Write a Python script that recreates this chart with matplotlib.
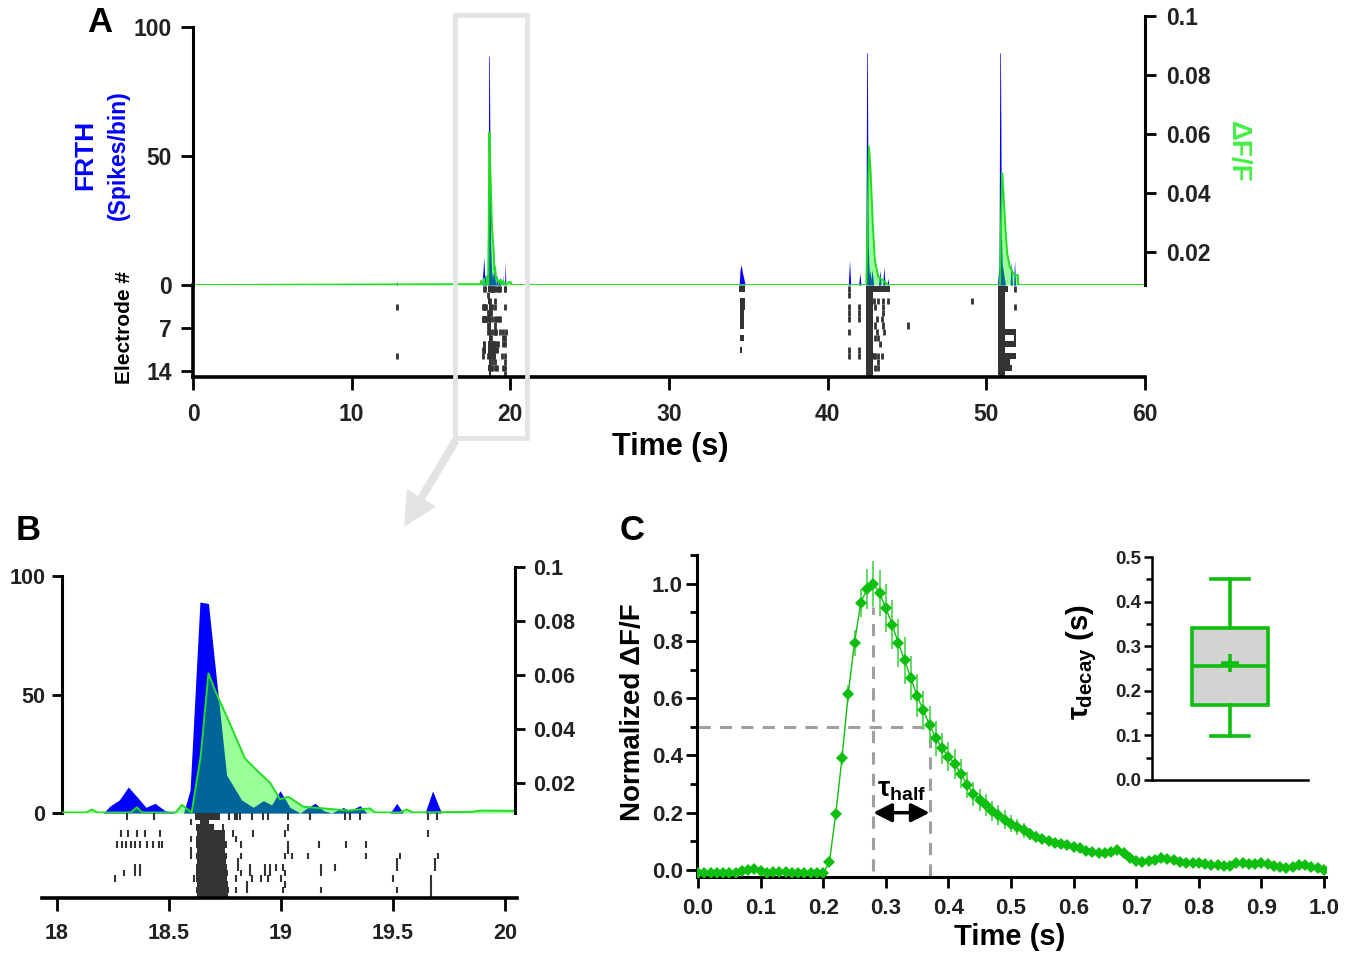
import numpy as np
import matplotlib
matplotlib.use("Agg")
import matplotlib.pyplot as plt
from matplotlib.patches import Rectangle, Polygon

plt.rcParams["font.family"] = ["Liberation Sans", "DejaVu Sans"]
plt.rcParams["font.weight"] = "bold"
plt.rcParams["mathtext.fontset"] = "custom"
plt.rcParams["mathtext.rm"] = "Liberation Sans:bold"
plt.rcParams["mathtext.it"] = "Liberation Sans:bold"
plt.rcParams["mathtext.bf"] = "Liberation Sans:bold"

BLUE = "#0000FF"
LIME = "#00FF00"
LIME_LINE = "#22DD22"
GREEN = "#0FBF0F"
ERR_GREEN = "#55D855"
RASTER = "#333333"
TICK = "#222222"

# ---------------- data ----------------
# panel B: FRTH (spikes/bin) 18-20 s
B_FRTH_T = [18.02, 18.207, 18.237, 18.278, 18.318, 18.359, 18.397, 18.437, 18.482, 18.527,
            18.565, 18.594, 18.638, 18.676, 18.757, 18.824, 18.876, 18.921, 18.958, 18.996,
            19.04, 19.085, 19.115, 19.152, 19.19, 19.226, 19.278, 19.308, 19.353, 19.383,
            19.487, 19.517, 19.546, 19.643, 19.677, 19.717, 20.04]
B_FRTH_V = [0, 0, 3, 5.5, 11, 6.6, 2.4, 4.1, 1, 0,
            0, 9.7, 89, 88.4, 16, 5.5, 2.4, 5.2, 3.4, 9.4,
            2.4, 0, 2, 4.1, 1, 0, 2.3, 1, 3.1, 0,
            0, 4.1, 0, 0, 9.3, 0, 0]
# panel B: dF/F 18-20 s
B_DFF_T = [18.02, 18.13, 18.155, 18.18, 18.33, 18.356, 18.38, 18.53, 18.557, 18.601,
           18.641, 18.676, 18.711, 18.765, 18.839, 18.891, 18.951, 18.996, 19.033, 19.1,
           19.19, 19.3, 19.397, 19.42, 19.53, 19.561, 19.59, 19.85, 19.89, 20.04]
B_DFF_V = [0.0091, 0.0091, 0.0102, 0.0091, 0.0091, 0.011, 0.0091, 0.0091, 0.0119, 0.0091,
           0.0297, 0.0606, 0.0532, 0.0433, 0.0291, 0.0248, 0.0201, 0.014, 0.0149, 0.0112,
           0.0106, 0.0098, 0.0106, 0.0091, 0.0091, 0.0102, 0.0091, 0.0093, 0.0098, 0.0097]

# panel A: other events (FRTH)
EV13_T = [12.8, 12.85, 12.9]
EV13_V = [0, 1.5, 0]
EV34_T = [34.42, 34.48, 34.55, 34.62, 34.7, 34.8]
EV34_V = [0, 6, 8, 5, 3, 0]
EV42_T = [41.3, 41.38, 41.45, 41.95, 42.03, 42.1, 42.4, 42.46, 42.5, 42.56, 42.62, 42.66,
          42.72, 42.8, 42.9, 43.2, 43.29, 43.36, 43.47, 43.54, 43.62, 43.75, 43.8, 43.86]
EV42_V = [0, 9.7, 0, 0, 4.6, 0, 0, 90, 90, 15, 4, 5.8, 2, 6, 0, 0, 5.8, 0, 0, 7, 0, 0, 2.7, 0]
EV51_T = [50.7, 50.8, 50.85, 50.89, 50.95, 51.0, 51.1, 51.2, 51.5, 51.57, 51.64, 51.72, 51.78, 51.84]
EV51_V = [0, 8, 90, 90, 20, 8, 4, 0, 0, 9, 0, 0, 9.7, 0]
# panel A: other events (dF/F)
EV42_DT = [42.44, 42.52, 42.6, 42.7, 42.83, 42.97, 43.19, 43.7, 43.8]
EV42_DV = [0.0088, 0.03, 0.0557, 0.048, 0.0308, 0.0173, 0.0116, 0.0095, 0.0088]
EV51_DT = [50.86, 50.93, 51.0, 51.06, 51.17, 51.31, 51.48, 51.75, 51.98, 52.02]
EV51_DV = [0.0088, 0.03, 0.0467, 0.042, 0.0308, 0.0196, 0.015, 0.0122, 0.0122, 0.0088]
DFF_BASE = 0.0088

# raster 18-20 s (one list per electrode 0..14)
B_SPIKES = [
    [18.311, 18.434, 18.769, 18.795, 18.805, 18.817, 18.869, 18.921, 18.943, 19.033, 19.13,
     19.286, 19.308, 19.353, 19.658, 19.695],
    [18.60],
    [18.74, 19.03],
    [18.284, 18.318, 18.356, 18.393, 18.46, 18.787, 18.876, 19.018, 19.658],
    [18.60, 18.80],
    [18.27, 18.29, 18.31, 18.33, 18.35, 18.37, 18.40, 18.43, 18.455, 18.47, 18.82, 19.03,
     19.17, 19.29, 19.38],
    [18.60, 19.03],
    [18.60, 18.82, 19.02, 19.05, 19.12, 19.38, 19.53, 19.70],
    [18.81, 19.52, 19.69],
    [18.35, 18.37, 18.81, 18.86, 18.93, 18.95, 18.98, 19.01, 19.18, 19.24, 19.52, 19.69],
    [18.30, 18.35, 18.37, 18.82, 18.86, 18.93, 18.95, 19.02, 19.18],
    [18.26, 18.61, 18.80, 18.87, 18.91, 18.94, 19.00, 19.50, 19.67],
    [18.85, 19.02, 19.67],
    [18.80, 18.85, 19.01, 19.18, 19.52, 19.67],
    [19.67],
]
B_SPANS = [
    [(18.615, 18.73)], [(18.64, 18.68)], [(18.62, 18.70)], [(18.625, 18.75)], [(18.62, 18.75)],
    [(18.62, 18.76)], [(18.625, 18.75)], [(18.62, 18.76)], [(18.625, 18.755)], [(18.62, 18.76)],
    [(18.62, 18.765)], [(18.62, 18.76)], [(18.625, 18.765)], [(18.62, 18.77)], [(18.625, 18.765)],
]
# raster, rest of the 60 s recording
A_SPIKES = [
    [41.35, 51.78],
    [41.35],
    [42.95, 43.2, 43.5, 43.8, 49.1],
    [12.85, 41.35, 42.0, 43.0, 43.5, 51.78],
    [41.35, 42.0, 43.5],
    [41.35, 42.0, 43.1, 43.4],
    [43.0, 43.5, 45.05],
    [41.35, 43.1, 43.55],
    [43.0, 43.2],
    [43.3],
    [41.35, 42.0],
    [12.85, 41.35, 42.0, 42.9, 43.0, 43.2, 43.4],
    [43.2],
    [43.0, 43.2],
    [],
]
A_SPANS = [
    [(34.42, 34.80), (42.4, 43.9), (50.73, 51.36)],
    [(42.4, 42.85), (50.73, 51.15)],
    [(34.45, 34.8), (42.4, 42.85), (50.73, 51.15)],
    [(34.45, 34.8), (42.4, 42.85), (50.73, 51.2)],
    [(34.45, 34.75), (42.4, 42.85), (50.73, 51.15)],
    [(34.45, 34.75), (42.4, 42.85), (50.73, 51.15)],
    [(34.45, 34.7), (42.4, 42.85), (50.73, 51.15)],
    [(42.4, 42.85), (50.73, 51.9)],
    [(34.45, 34.75), (42.4, 42.85), (50.73, 51.15), (51.72, 51.9)],
    [(42.4, 42.85), (50.73, 51.9)],
    [(34.45, 34.6), (42.4, 42.85), (50.73, 51.15)],
    [(42.4, 42.9), (50.73, 51.9)],
    [(42.4, 42.85), (50.73, 51.5)],
    [(42.4, 42.85), (50.73, 51.6)],
    [(42.4, 42.85), (50.73, 51.15)],
]

# panel C: mean normalized dF/F (0.01 s steps) and SEM
C_T = [round(0.01 * i, 2) for i in range(101)]
C_MEAN = [-0.012, -0.012, -0.012, -0.012, -0.012, -0.011, -0.010, -0.005, 0.000, 0.005,
          -0.002, -0.010, -0.008, -0.007, -0.008, -0.010, -0.009, -0.011, -0.012, -0.012,
          -0.010, 0.028, 0.196, 0.390, 0.615, 0.793, 0.933, 0.981, 1.000, 0.967,
          0.915, 0.857, 0.793, 0.732, 0.670, 0.608, 0.557, 0.507, 0.460, 0.425,
          0.396, 0.371, 0.336, 0.297, 0.266, 0.245, 0.227, 0.207, 0.192, 0.175,
          0.162, 0.150, 0.138, 0.126, 0.116, 0.108, 0.101, 0.095, 0.090, 0.086,
          0.081, 0.076, 0.068, 0.063, 0.061, 0.061, 0.063, 0.069, 0.058, 0.043,
          0.033, 0.029, 0.031, 0.035, 0.042, 0.040, 0.034, 0.028, 0.025, 0.024,
          0.023, 0.022, 0.019, 0.016, 0.013, 0.014, 0.025, 0.026, 0.022, 0.021,
          0.023, 0.022, 0.013, 0.009, 0.006, 0.010, 0.016, 0.017, 0.012, 0.008,
          0.000]
C_SEM = [0.004] * 21 + [0.008, 0.017, 0.025, 0.030, 0.045, 0.050, 0.070, 0.080, 0.080,
                        0.083, 0.085, 0.085, 0.083, 0.078, 0.075, 0.068, 0.066, 0.062, 0.055,
                        0.052, 0.053, 0.050, 0.045, 0.043, 0.039, 0.037, 0.035, 0.036, 0.033,
                        0.030, 0.027, 0.025, 0.022, 0.020, 0.018, 0.015, 0.013, 0.011, 0.010,
                        0.009, 0.008] + [0.006] * 20 + [0.005] * 19
T_PEAK = 0.28
T_HALF = 0.37
# inset: tau_decay box plot summary (s)
TAU_Q1, TAU_MED, TAU_Q3 = 0.168, 0.256, 0.340
TAU_LO, TAU_HI, TAU_MEAN = 0.098, 0.450, 0.263

# ---------------- layout helpers (pixels, top-left origin) ----------------
W, H = 1355, 956
fig = plt.figure(figsize=(W / 100, H / 100), dpi=100)


def axes_px(x0, y0, x1, y1):
    ax = fig.add_axes([x0 / W, 1 - y1 / H, (x1 - x0) / W, (y1 - y0) / H])
    ax.set_facecolor("none")
    return ax


def text_px(x, y, s, **kw):
    fig.text(x / W, 1 - y / H, s, ha=kw.pop("ha", "center"), va=kw.pop("va", "center"), **kw)


def only_spines(ax, keep, lw=2.2):
    for side, sp in ax.spines.items():
        sp.set_visible(side in keep)
        sp.set_linewidth(lw)


def raster(ax, spikes, spans, lw, height):
    for row, times in enumerate(spikes):
        if times:
            ax.vlines(times, row + 0.6 - height / 2, row + 0.6 + height / 2, color=RASTER, lw=lw)
    for row, segs in enumerate(spans):
        ax.broken_barh([(s, e - s) for s, e in segs], (row + 0.6 - height / 2, height),
                       facecolor=RASTER, lw=0)


def frth(ax, ax2, t, v, dt, dv, base):
    ax.fill_between(t, v, 0, color=BLUE, lw=0)
    ax2.fill_between(dt, dv, base, color=LIME, alpha=0.4, lw=0)
    ax2.plot(dt, dv, color=LIME_LINE, lw=1.4)


# ---------------- panel A ----------------
a_t = np.concatenate([[0.0], EV13_T, B_FRTH_T, EV34_T, EV42_T, EV51_T, [60.0]])
a_v = np.concatenate([[0.0], EV13_V, B_FRTH_V, EV34_V, EV42_V, EV51_V, [0.0]])
a_dt = np.concatenate([[0.0], B_DFF_T, [20.1], EV42_DT, EV51_DT, [60.0]])
a_dv = np.concatenate([[DFF_BASE], B_DFF_V, [DFF_BASE], EV42_DV, EV51_DV, [DFF_BASE]])

axA = axes_px(193, 14, 1145, 285)
axA2 = axA.twinx()
axA2.set_facecolor("none")
axA.set_xlim(0, 60)
axA.set_ylim(0, 105)
axA2.set_ylim(0.00881, 0.10068)
frth(axA, axA2, a_t, a_v, a_dt, a_dv, 0.00881)
only_spines(axA, ["left"])
only_spines(axA2, ["right"])
axA.spines["left"].set_bounds(0, 100)
axA2.spines["right"].set_bounds(0.00881, 0.1)
axA.set_xticks([])
axA.set_yticks([0, 50, 100])
axA.tick_params(axis="y", direction="out", length=9, width=2, pad=6, labelsize=16.5,
                labelcolor=TICK)
axA2.set_yticks([0.02, 0.04, 0.06, 0.08, 0.1])
axA2.set_yticklabels(["0.02", "0.04", "0.06", "0.08", "0.1"])
axA2.tick_params(axis="y", direction="out", length=8, width=2, pad=7, labelsize=16.5,
                 labelcolor=TICK)

axAr = axes_px(193, 285, 1145, 377)
axAr.set_xlim(0, 60)
axAr.set_ylim(15, 0)
raster(axAr, [b + a for b, a in zip(B_SPIKES, A_SPIKES)],
       [b + a for b, a in zip(B_SPANS, A_SPANS)], lw=2.0, height=1.0)
only_spines(axAr, ["left", "bottom"], lw=2.6)
axAr.set_yticks([7, 14])
axAr.set_xticks(range(0, 61, 10))
axAr.tick_params(axis="y", direction="out", length=9, width=2, pad=6, labelsize=16.5,
                 labelcolor=TICK)
axAr.tick_params(axis="x", direction="out", length=9, width=2, pad=10, labelsize=16.5,
                 labelcolor=TICK)

text_px(100, 22, "A", fontsize=25)
text_px(85, 155, "FRTH", fontsize=19, color=BLUE, rotation=90)
text_px(118, 155, "(Spikes/bin)", fontsize=16.5, color=BLUE, rotation=90)
text_px(125, 327, "Electrode #", fontsize=15, rotation=90)
text_px(1238, 152, "ΔF/F", fontsize=20, color="#44EE44", rotation=-90)
text_px(670, 447, "Time (s)", fontsize=22)

# zoom box + arrow
fig.add_artist(Rectangle((455 / W, 1 - 438 / H), 72 / W, 423 / H, transform=fig.transFigure,
                         fill=False, edgecolor="#E3E3E3", lw=3.4, zorder=10))
tip = np.array([404.0, 527.0])
start = np.array([456.0, 440.0])
u = (tip - start) / np.hypot(*(tip - start))
n = np.array([-u[1], u[0]])
hb = tip - u * 34
verts = [start + n * 4, hb + n * 4, hb + n * 17, tip, hb - n * 17, hb - n * 4, start - n * 4]
fig.add_artist(Polygon([(x / W, 1 - y / H) for x, y in verts], closed=True,
                       transform=fig.transFigure, facecolor="#E3E3E3", edgecolor="none",
                       zorder=10))

# ---------------- panel B ----------------
axB = axes_px(62, 567, 515, 813)
axB2 = axB.twinx()
axB2.set_facecolor("none")
axB.set_xlim(18.022, 20.045)
axB.set_ylim(0, 103.8)
axB2.set_ylim(0.0089, 0.1)
frth(axB, axB2, B_FRTH_T, B_FRTH_V, B_DFF_T, B_DFF_V, 0.0089)
only_spines(axB, ["left"])
only_spines(axB2, ["right"])
axB.spines["left"].set_bounds(0, 100)
axB.set_xticks([])
axB.set_yticks([0, 50, 100])
axB.tick_params(axis="y", direction="out", length=7, width=2, pad=5, labelsize=15.5,
                labelcolor=TICK)
axB2.set_yticks([0.02, 0.04, 0.06, 0.08, 0.1])
axB2.set_yticklabels(["0.02", "0.04", "0.06", "0.08", "0.1"])
axB2.tick_params(axis="y", direction="out", length=7, width=2, pad=6, labelsize=15.5,
                 labelcolor=TICK)

axBr = axes_px(42, 813, 517, 898)
axBr.set_xlim(17.933, 20.054)
axBr.set_ylim(15, 0)
raster(axBr, B_SPIKES, B_SPANS, lw=1.5, height=1.2)
only_spines(axBr, ["bottom"], lw=2.6)
axBr.set_yticks([])
axBr.set_xticks([18, 18.5, 19, 19.5, 20])
axBr.set_xticklabels(["18", "18.5", "19", "19.5", "20"])
axBr.tick_params(axis="x", direction="out", length=9, width=2, pad=9, labelsize=15.5,
                 labelcolor=TICK)
text_px(28, 530, "B", fontsize=25)

# ---------------- panel C ----------------
axC = axes_px(697, 555, 1326, 877)
axC.set_xlim(-0.0016, 1.0032)
axC.set_ylim(-0.0245, 1.1)
axC.plot([0, T_HALF], [0.5, 0.5], color="#A0A0A0", lw=2.2, dashes=(4, 3), zorder=1)
axC.plot([T_PEAK, T_PEAK], [-0.005, 0.92], color="#A0A0A0", lw=2.2, dashes=(4, 3), zorder=1)
axC.plot([T_HALF, T_HALF], [-0.02, 0.5], color="#A0A0A0", lw=2.2, dashes=(4, 3), zorder=1)
axC.errorbar(C_T, C_MEAN, yerr=C_SEM, fmt="-D", color=GREEN, ecolor=ERR_GREEN, lw=1.0,
             elinewidth=1.3, capsize=5, capthick=1.3, markersize=6, markeredgewidth=0,
             zorder=3)
axC.annotate("", xy=(T_HALF, 0.2), xytext=(T_PEAK, 0.2),
             arrowprops=dict(arrowstyle="<|-|>,head_length=0.55,head_width=0.28", color="black",
                             lw=2.5, mutation_scale=20, shrinkA=0, shrinkB=0))
axC.text((T_PEAK + T_HALF) / 2, 0.28, r"$\tau_{half}$", fontsize=20, ha="center", va="center")
only_spines(axC, ["left", "bottom"], lw=2.2)
axC.set_xticks([round(0.1 * i, 1) for i in range(11)])
axC.set_xticklabels([f"{0.1 * i:.1f}" for i in range(11)])
axC.set_yticks([0.0, 0.2, 0.4, 0.6, 0.8, 1.0])
axC.set_yticklabels(["0.0", "0.2", "0.4", "0.6", "0.8", "1.0"])
axC.set_yticks([0.1, 0.3, 0.5, 0.7, 0.9, 1.1], minor=True)
axC.tick_params(axis="both", which="major", direction="out", length=8, width=2, labelsize=16,
                labelcolor=TICK)
axC.tick_params(axis="y", which="major", pad=2)
axC.tick_params(axis="x", which="major", pad=7)
axC.tick_params(axis="y", which="minor", direction="out", length=5, width=2)
text_px(632, 530, "C", fontsize=25)
text_px(633, 712, "Normalized ΔF/F", fontsize=20, rotation=90)
text_px(1010, 937, "Time (s)", fontsize=21)

# inset box plot
axI = axes_px(1152, 557, 1308, 780)
axI.set_xlim(0, 1)
axI.set_ylim(0, 0.5)
stats = [dict(med=TAU_MED, q1=TAU_Q1, q3=TAU_Q3, whislo=TAU_LO, whishi=TAU_HI, mean=TAU_MEAN,
              fliers=[])]
axI.bxp(stats, positions=[0.5], widths=0.487, capwidths=0.241, showmeans=True,
        patch_artist=True, manage_ticks=False,
        boxprops=dict(facecolor="#D3D3D3", edgecolor=GREEN, lw=2.6),
        whiskerprops=dict(color=GREEN, lw=2.6), capprops=dict(color=GREEN, lw=2.6),
        medianprops=dict(color=GREEN, lw=2.6),
        meanprops=dict(marker="+", markeredgecolor=GREEN, markersize=13, markeredgewidth=2.6))
only_spines(axI, ["left", "bottom"], lw=1.8)
axI.set_xticks([])
axI.set_yticks([0.0, 0.1, 0.2, 0.3, 0.4, 0.5])
axI.set_yticklabels(["0.0", "0.1", "0.2", "0.3", "0.4", "0.5"])
axI.set_yticks([0.05, 0.15, 0.25, 0.35, 0.45], minor=True)
axI.tick_params(axis="y", which="major", direction="out", length=6, width=1.8, pad=2,
                labelsize=13.5, labelcolor=TICK)
axI.tick_params(axis="y", which="minor", direction="out", length=4, width=1.8)
text_px(1082, 662, r"$\tau_{decay}$ (s)", fontsize=21, rotation=90)

fig.savefig("out.png", dpi=100, facecolor="white")
